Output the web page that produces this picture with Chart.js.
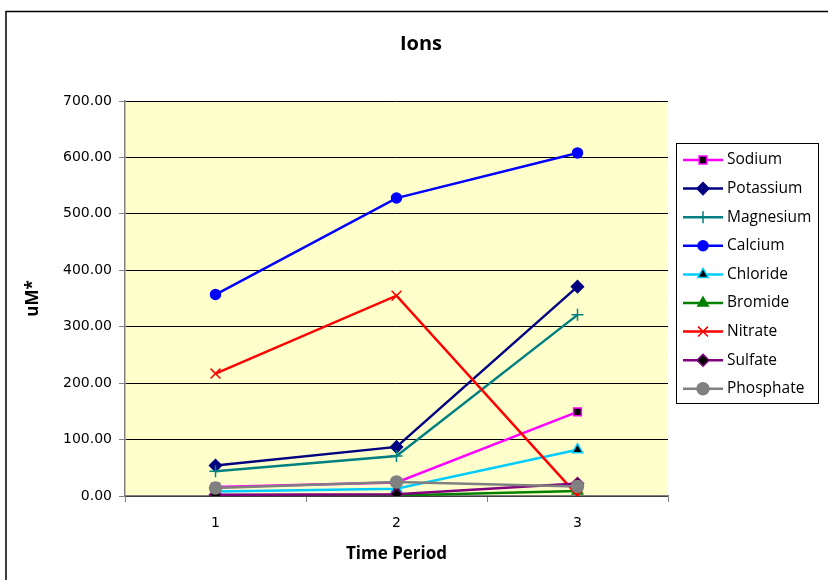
<!DOCTYPE html>
<html><head><meta charset="utf-8">
<script src="https://cdn.jsdelivr.net/npm/chart.js@4/dist/chart.umd.min.js"></script>
<style>html,body{margin:0;padding:0;background:#fff}#wrap{width:828px;height:580px;position:relative}</style>
</head><body><div id="wrap"><canvas id="c" width="828" height="580"></canvas></div>
<script>
const categories = ['1', '2', '3'];
const sodium    = [16, 24, 149];
const potassium = [54, 87, 371];
const magnesium = [44, 71, 321];
const calcium   = [357, 528, 608];
const chloride  = [8, 13, 82];
const bromide   = [0, 1, 9];
const nitrate   = [217, 355, 1];
const sulfate   = [2, 3, 22];
const phosphate = [14, 25, 17];
const yTicks = [0, 100, 200, 300, 400, 500, 600, 700];

const FONT = '"Open Sans"';
const TICKFONT = '"DejaVu Sans"';
const series = [
  {label:'Sodium', data:sodium, line:'#FF00FF', fill:'#000000', border:'#FF00FF', style:'rect', r:5.5},
  {label:'Potassium', data:potassium, line:'#000080', fill:'#000080', border:'#000080', style:'rectRot', r:6},
  {label:'Magnesium', data:magnesium, line:'#008080', fill:'#008080', border:'#008080', style:'cross', r:6},
  {label:'Calcium', data:calcium, line:'#0000FF', fill:'#0000FF', border:'#0000FF', style:'circle', r:5},
  {label:'Chloride', data:chloride, line:'#00CCFF', fill:'#000000', border:'#00CCFF', style:'triangle', r:6},
  {label:'Bromide', data:bromide, line:'#008000', fill:'#008000', border:'#008000', style:'triangle', r:6},
  {label:'Nitrate', data:nitrate, line:'#FF0000', fill:'#FF0000', border:'#FF0000', style:'crossRot', r:7},
  {label:'Sulfate', data:sulfate, line:'#800080', fill:'#000000', border:'#800080', style:'rectRot', r:6},
  {label:'Phosphate', data:phosphate, line:'#808080', fill:'#808080', border:'#808080', style:'circle', r:6}
];

const datasets = series.map((s, i) => ({
  label: s.label, data: s.data,
  borderColor: s.line, borderWidth: 2.5,
  pointStyle: s.style, pointRadius: s.r,
  pointBackgroundColor: s.fill, pointBorderColor: s.border, pointBorderWidth: 1.5,
  tension: 0, fill: false, order: series.length - i
}));

const deco = {
  id: 'deco',
  beforeDraw(chart) {
    const ctx = chart.ctx, a = chart.chartArea;
    ctx.save();
    ctx.fillStyle = '#fff'; ctx.fillRect(0, 0, chart.width, chart.height);
    ctx.strokeStyle = '#000'; ctx.lineWidth = 1.5;
    ctx.strokeRect(6, 11.5, 900, 700);
    ctx.fillStyle = '#FFFFCC';
    ctx.fillRect(a.left, a.top, a.right - a.left, a.bottom - a.top);
    ctx.fillStyle = '#000';
    ctx.font = 'bold 20px ' + FONT;
    ctx.textAlign = 'center'; ctx.textBaseline = 'middle';
    ctx.fillText('Ions', 421, 44);
    ctx.restore();
  },
  afterDraw(chart) {
    const ctx = chart.ctx;
    ctx.save();
    const bx = 676, by = 143, bw = 142, bh = 260;
    ctx.fillStyle = '#fff'; ctx.fillRect(bx, by, bw, bh);
    ctx.strokeStyle = '#000'; ctx.lineWidth = 1; ctx.strokeRect(bx + 0.5, by + 0.5, bw, bh);
    ctx.font = '15.5px ' + FONT; ctx.textBaseline = 'middle'; ctx.textAlign = 'left';
    series.forEach((s, i) => {
      const y = 160 + i * 28.6;
      ctx.strokeStyle = s.line; ctx.lineWidth = 2.5;
      ctx.beginPath(); ctx.moveTo(683, y); ctx.lineTo(723, y); ctx.stroke();
      ctx.fillStyle = s.fill; ctx.strokeStyle = s.border; ctx.lineWidth = 1.5;
      Chart.helpers.drawPoint(ctx, {pointStyle: s.style, radius: s.r, rotation: 0, borderWidth: 1.5}, 703, y);
      ctx.fillStyle = '#000';
      ctx.fillText(s.label, 727, y);
    });
    ctx.restore();
  }
};

new Chart(document.getElementById('c'), {
  type: 'line',
  data: { labels: categories, datasets },
  options: {
    responsive: false, animation: false,
    layout: { padding: { top: 101, right: 160, left: 0, bottom: 0 } },
    plugins: { legend: { display: false }, tooltip: { enabled: false }, title: { display: false } },
    scales: {
      x: {
        offset: true,
        grid: { display: true, drawOnChartArea: false, offset: true, color: '#808080', tickLength: 6, lineWidth: 1 },
        border: { color: '#808080', width: 1.5 },
        ticks: { color: '#000', font: { family: TICKFONT, size: 14 }, padding: 13 },
        title: { display: true, text: 'Time Period', color: '#000', font: { family: FONT, size: 17, weight: 'bold' }, padding: { top: 0, bottom: 16 } },
        afterFit(s) { s.height = 84; }
      },
      y: {
        min: 0, max: 700,
        afterBuildTicks(s) { s.ticks = yTicks.map(v => ({ value: v })); },
        grid: { color: '#000', lineWidth: 1, tickLength: 6, drawTicks: true, tickColor: '#808080' },
        border: { color: '#808080', width: 1.5 },
        ticks: { color: '#000', font: { family: TICKFONT, size: 14 }, padding: 7, callback: v => Number(v).toFixed(2) },
        title: { display: true, text: 'uM*', color: '#000', font: { family: FONT, size: 17, weight: 'bold' }, padding: { top: 23, bottom: 0 } },
        afterFit(s) { s.width = 125; }
      }
    }
  },
  plugins: [deco]
});
</script></body></html>
